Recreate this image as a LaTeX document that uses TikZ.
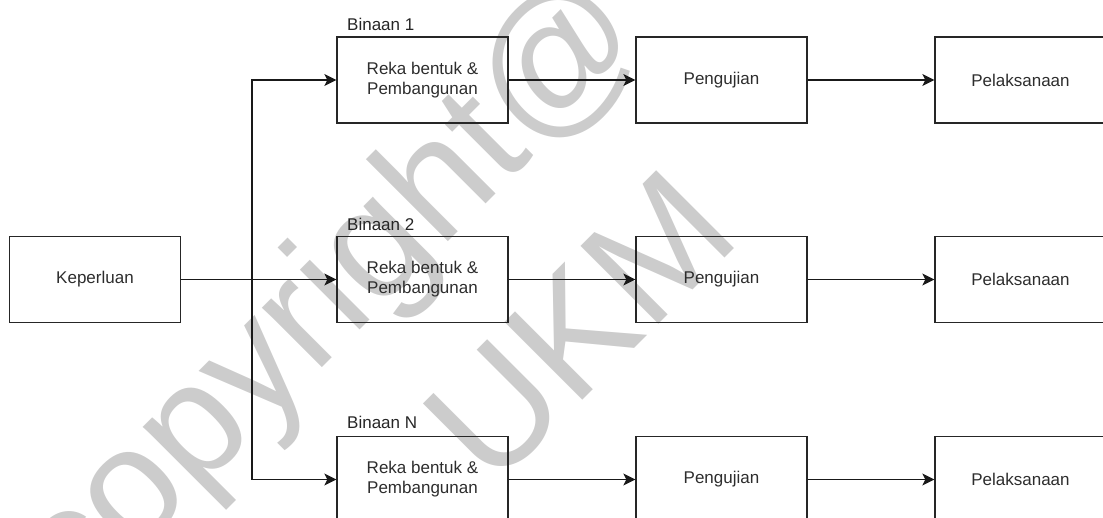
\documentclass[tikz,border=0pt]{standalone}
\usepackage{fontspec}
\setmainfont{Liberation Sans}
\usetikzlibrary{arrows.meta}
\definecolor{wm}{RGB}{204,204,204}
\definecolor{txt}{RGB}{45,45,45}
\begin{document}
\begin{tikzpicture}[x=1pt,y=-1pt,
  box/.style={draw=black!85, line width=1.3pt, minimum width=171pt, minimum height=86pt, inner sep=0pt, align=center, font=\fontsize{17}{20}\selectfont, text=txt},
  arr/.style={draw=black!90, line width=1.3pt, -{Stealth[length=12pt,width=12pt,inset=3pt]}},
  lbl/.style={anchor=base west, inner sep=0pt, font=\fontsize{17}{20}\selectfont, text=black!85},
  wmark/.style={rotate=45, anchor=base, inner sep=0pt, text=wm, font=\fontsize{160}{190}\selectfont}]
\useasboundingbox (0,0) rectangle (1103,517);
\clip (0,0) rectangle (1103,517);
% watermark
\node[wmark] (w1) at (363,327) {copyright@};
\node[wmark] (w2) at (618,365) {UKM};
% boxes
\node[box] (K) at (95,279.5) {Keperluan};
\node[box] (R1) at (422.5,80) {Reka bentuk \&\\Pembangunan};
\node[box] (R2) at (422.5,279.5) {Reka bentuk \&\\Pembangunan};
\node[box] (R3) at (422.5,479.5) {Reka bentuk \&\\Pembangunan};
\node[box] (P1) at (721.5,80) {Pengujian};
\node[box] (P2) at (721.5,279.5) {Pengujian};
\node[box] (P3) at (721.5,479.5) {Pengujian};
\node[box] (L1) at (1020.5,80) {Pelaksanaan};
\node[box] (L2) at (1020.5,279.5) {Pelaksanaan};
\node[box] (L3) at (1020.5,479.5) {Pelaksanaan};
% labels
\node[lbl] (B1) at (347,30) {Binaan 1};
\node[lbl] (B2) at (347,230) {Binaan 2};
\node[lbl] (B3) at (347,428) {Binaan N};
% connectors
\coordinate (j) at (252,279.5);
\draw[arr] (K) -- (R2);
\draw[arr] (K.east) -- (j) |- (R1.west);
\draw[arr] (K.east) -- (j) |- (R3.west);
\draw[arr] (R1) -- (P1);
\draw[arr] (R2) -- (P2);
\draw[arr] (R3) -- (P3);
\draw[arr] (P1) -- (L1);
\draw[arr] (P2) -- (L2);
\draw[arr] (P3) -- (L3);
\end{tikzpicture}
\end{document}
